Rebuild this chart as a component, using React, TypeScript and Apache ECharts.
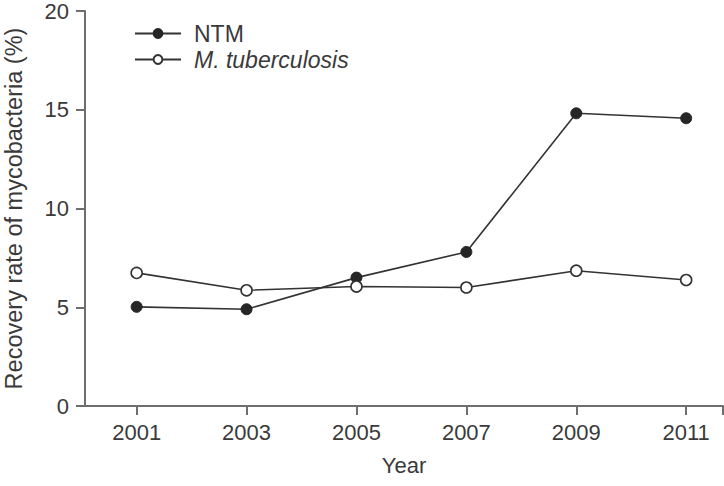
import React, { useEffect, useRef } from "react";
import * as echarts from "echarts";

const years = [2001, 2003, 2005, 2007, 2009, 2011];
const ntm = [5.02, 4.9, 6.5, 7.8, 14.82, 14.57];
const tuberculosis = [6.74, 5.86, 6.05, 6.0, 6.85, 6.38];
const yTicks = [0, 5, 10, 15, 20];

const FONT = "'Liberation Sans', Arial, Helvetica, sans-serif";
const TEXT = "#3a3a3a";
const AXIS = "#6e6e6e";
const LINE = "#333333";

export default function App() {
  const ref = useRef<HTMLDivElement>(null);

  useEffect(() => {
    if (!ref.current) return;
    const chart = echarts.init(ref.current, undefined, { renderer: "svg" });
    const pair = (vals: number[]) => years.map((y, i) => [y, vals[i]]);
    chart.setOption({
      animation: false,
      backgroundColor: "#ffffff",
      textStyle: { fontFamily: FONT },
      grid: {
        left: 85,
        top: 11,
        right: 1,
        bottom: 80,
        containLabel: false,
        outerBoundsMode: "none",
      },
      legend: {
        orient: "vertical",
        left: 134,
        top: 22,
        padding: 0,
        itemWidth: 46,
        itemHeight: 11,
        itemGap: 3,
        data: ["NTM", "M. tuberculosis"],
        textStyle: {
          fontFamily: FONT,
          fontSize: 23,
          color: TEXT,
          padding: [0, 0, 0, 8],
          rich: {
            i: { fontStyle: "italic", fontFamily: FONT, fontSize: 23, color: TEXT },
          },
        },
        formatter: (name: string) => (name === "M. tuberculosis" ? `{i|${name}}` : name),
      },
      xAxis: {
        type: "value",
        min: 2000.06,
        max: 2011.67,
        name: "Year",
        nameLocation: "middle",
        nameGap: 48,
        nameTextStyle: { fontFamily: FONT, fontSize: 22, color: TEXT },
        splitLine: { show: false },
        axisLine: { show: true, lineStyle: { color: AXIS, width: 2 } },
        axisTick: {
          show: true,
          length: 9,
          lineStyle: { color: AXIS, width: 2 },
          customValues: [...years, 2011.67],
        },
        axisLabel: {
          fontFamily: FONT,
          fontSize: 22,
          color: TEXT,
          margin: 15,
          customValues: years,
          formatter: (v: number) => String(v),
        },
      },
      yAxis: {
        type: "value",
        min: 0,
        max: 20,
        interval: 5,
        name: "Recovery rate of mycobacteria (%)",
        nameLocation: "middle",
        nameGap: 59,
        nameTextStyle: { fontFamily: FONT, fontSize: 23.5, color: TEXT },
        splitLine: { show: false },
        axisLine: { show: true, lineStyle: { color: AXIS, width: 2 } },
        axisTick: { show: true, length: 9, lineStyle: { color: AXIS, width: 2 } },
        axisLabel: {
          fontFamily: FONT,
          fontSize: 22,
          color: TEXT,
          margin: 16,
          customValues: yTicks,
        },
      },
      series: [
        {
          name: "NTM",
          type: "line",
          data: pair(ntm),
          symbol: "circle",
          symbolSize: 11,
          lineStyle: { color: LINE, width: 1.6 },
          itemStyle: { color: "#262626", borderColor: "#262626", borderWidth: 1 },
        },
        {
          name: "M. tuberculosis",
          type: "line",
          data: pair(tuberculosis),
          symbol: "circle",
          symbolSize: 11,
          lineStyle: { color: LINE, width: 1.6 },
          itemStyle: { color: "#ffffff", borderColor: "#333333", borderWidth: 1.6 },
        },
      ],
    });
    return () => chart.dispose();
  }, []);

  return <div ref={ref} style={{ width: 724, height: 486, position: "fixed", left: 0, top: 0 }} />;
}
